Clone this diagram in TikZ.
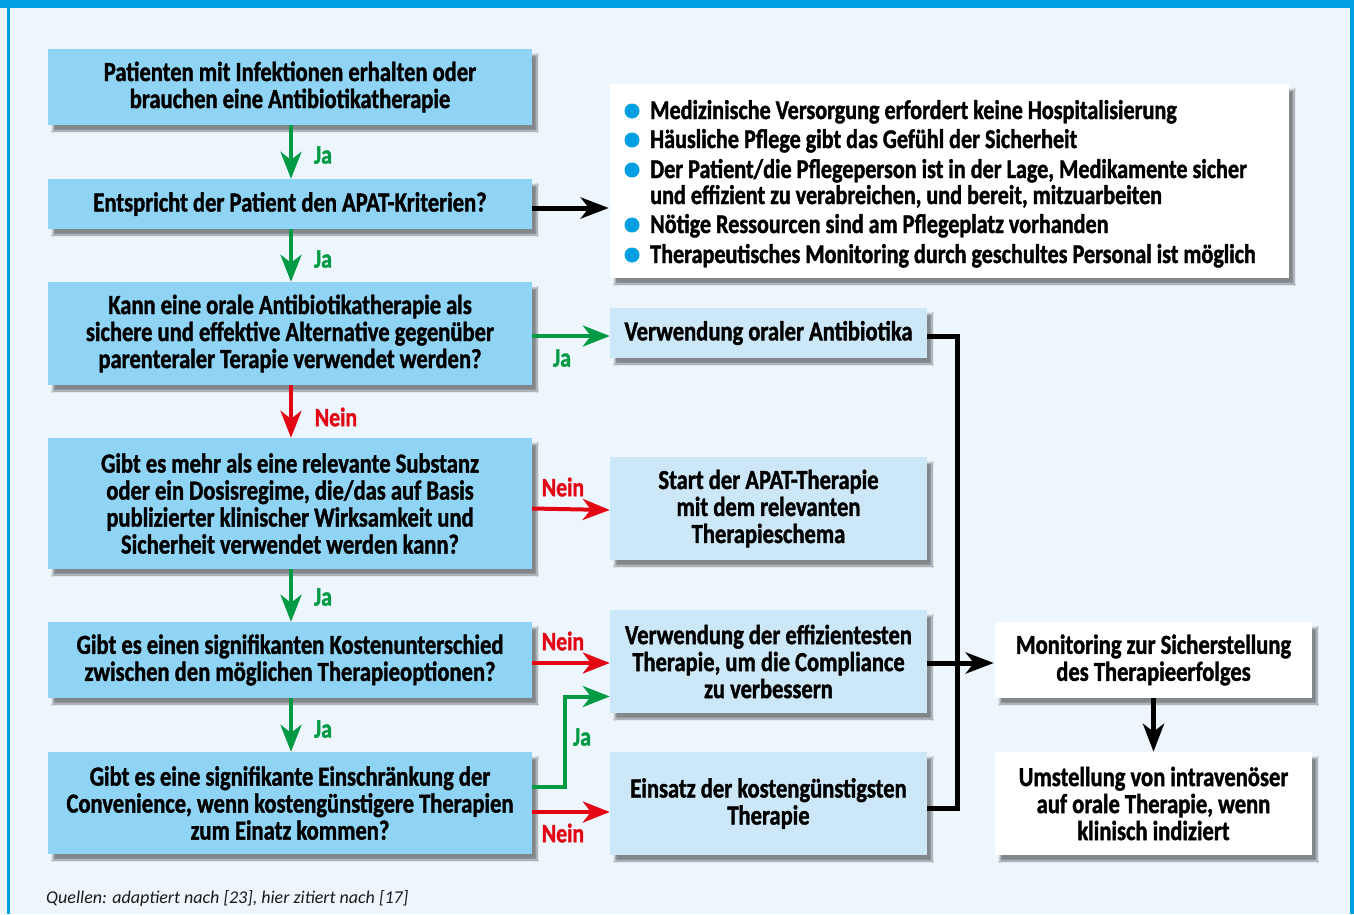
\documentclass[tikz,border=0pt]{standalone}
\usepackage{fontspec}
\setmainfont{Carlito}[FakeStretch=0.82, BoldFeatures={FakeBold=1.4}]
\newfontfamily\srcfont{Carlito}
\usetikzlibrary{arrows.meta,calc,shadows.blur}
\definecolor{bgcol}{HTML}{EEF6FD}
\definecolor{frameblue}{HTML}{009FE3}
\definecolor{darkbox}{HTML}{8FD4F5}
\definecolor{lightbox}{HTML}{CCE8F8}
\definecolor{jagreen}{HTML}{009A44}
\definecolor{neinred}{HTML}{E30613}
\tikzset{
  box/.style={rectangle, align=center, inner sep=0pt,
    blur shadow={shadow xshift=5pt, shadow yshift=-6pt, shadow opacity=45, shadow blur steps=8}},
  qbox/.style={box, fill=darkbox, minimum width=484pt},
  abox/.style={box, fill=lightbox, minimum width=317pt},
  wbox/.style={box, fill=white, minimum width=317pt},
  jaarrow/.style={draw=jagreen, line width=4pt, -{Stealth[length=27pt,width=21pt,inset=8pt]}},
  neinarrow/.style={draw=neinred, line width=4pt, -{Stealth[length=27pt,width=21pt,inset=8pt]}},
  blackarrow/.style={draw=black, line width=5pt, -{Stealth[length=28pt,width=21pt,inset=8pt]}},
  blackline/.style={draw=black, line width=5pt},
  jalabel/.style={text=jagreen, font=\bfseries\fontsize{26.5}{27}\selectfont},
  neinlabel/.style={text=neinred, font=\bfseries\fontsize{26.5}{27}\selectfont},
  bullet/.style={circle, fill=frameblue, minimum size=15pt, inner sep=0pt},
  item/.style={anchor=base west, align=left, inner sep=0pt, font=\bfseries\fontsize{27}{26}\selectfont}
}
\begin{document}
\begin{tikzpicture}[x=1pt, y=-1pt, font=\bfseries\fontsize{27.5}{27}\selectfont]
\useasboundingbox (0,0) rectangle (1354,914);
% background and frame
\fill[bgcol] (0,0) rectangle (1354,914);
\fill[frameblue] (0,0) rectangle (1354,8);
\fill[frameblue] (7,0) rectangle (10,914);
\fill[frameblue] (1350,0) rectangle (1354,914);

% left column questions
\node[qbox, minimum height=76pt] (b1) at (290,87) {Patienten mit Infektionen erhalten oder\\brauchen eine Antibiotikatherapie};
\node[qbox, minimum height=50pt] (b2) at (290,204) {Entspricht der Patient den APAT-Kriterien?};
\node[qbox, minimum height=103pt] (b3) at (290,333.5) {Kann eine orale Antibiotikatherapie als\\sichere und effektive Alternative gegenüber\\parenteraler Terapie verwendet werden?};
\node[qbox, minimum height=131pt] (b4) at (290,503.5) {Gibt es mehr als eine relevante Substanz\\oder ein Dosisregime, die/das auf Basis\\publizierter klinischer Wirksamkeit und\\Sicherheit verwendet werden kann?};
\node[qbox, minimum height=76pt] (b5) at (290,660) {Gibt es einen signifikanten Kostenunterschied\\zwischen den möglichen Therapieoptionen?};
\node[qbox, minimum height=102pt] (b6) at (290,803) {Gibt es eine signifikante Einschränkung der\\Convenience, wenn kostengünstigere Therapien\\zum Einatz kommen?};

% criteria box
\node[box, fill=white, minimum width=679pt, minimum height=194pt] (crit) at (949.5,181) {};
\node[bullet] (d1) at (632,111) {};
\node[item] (t1) at (650,119) {Medizinische Versorgung erfordert keine Hospitalisierung};
\node[bullet] (d2) at (632,140) {};
\node[item] (t2) at (650,148) {Häusliche Pflege gibt das Gefühl der Sicherheit};
\node[bullet] (d3) at (632,170) {};
\node[item] (t3) at (650,204) {Der Patient/die Pflegeperson ist in der Lage, Medikamente sicher\\und effizient zu verabreichen, und bereit, mitzuarbeiten};
\node[bullet] (d4) at (632,225) {};
\node[item] (t4) at (650,233) {Nötige Ressourcen sind am Pflegeplatz vorhanden};
\node[bullet] (d5) at (632,255) {};
\node[item] (t5) at (650,263) {Therapeutisches Monitoring durch geschultes Personal ist möglich};

% middle column actions
\node[abox, minimum height=50pt] (m1) at (768.5,333) {Verwendung oraler Antibiotika};
\node[abox, minimum height=103pt] (m2) at (768.5,508.5) {Start der APAT-Therapie\\mit dem relevanten\\Therapieschema};
\node[abox, minimum height=103pt] (m3) at (768.5,661.5) {Verwendung der effizientesten\\Therapie, um die Compliance\\zu verbessern};
\node[abox, minimum height=103pt] (m4) at (768.5,803.5) {Einsatz der kostengünstigsten\\Therapie};

% right column
\node[wbox, minimum height=76pt] (r1) at (1153.5,660) {Monitoring zur Sicherstellung\\des Therapieerfolges};
\node[wbox, minimum height=103pt] (r2) at (1153.5,803.5) {Umstellung von intravenöser\\auf orale Therapie, wenn\\klinisch indiziert};

% vertical flow
\draw[jaarrow] ([xshift=1pt]b1.south) -- ([xshift=1pt]b2.north);
\node[jalabel] (l1) at (323,155) {Ja};
\draw[jaarrow] ([xshift=1pt]b2.south) -- ([xshift=1pt]b3.north);
\node[jalabel] (l2) at (323,259) {Ja};
\draw[neinarrow] ([xshift=1pt]b3.south) -- ([xshift=1pt]b4.north);
\node[neinlabel] (l3) at (336,417) {Nein};
\draw[jaarrow] ([xshift=1pt]b4.south) -- ([xshift=1pt]b5.north);
\node[jalabel] (l4) at (323,597) {Ja};
\draw[jaarrow] ([xshift=1pt]b5.south) -- ([xshift=1pt]b6.north);
\node[jalabel] (l5) at (323,729) {Ja};

% horizontal flow
\draw[blackarrow] ($(b2.east)+(0,4)$) -- ($(crit.west |- b2.east)+(-1,4)$);
\draw[jaarrow] ($(b3.east)+(0,2.5)$) -- ($(m1.west)+(0,3)$);
\node[jalabel] (l6) at (562,358) {Ja};
\draw[neinarrow] (b4.east |- m2.west) -- ($(m2.west)+(0,1.5)$);
\node[neinlabel] (l7) at (563,487) {Nein};
\draw[neinarrow] ($(b5.east)+(0,3)$) -- ($(m3.west)+(0,1.5)$);
\node[neinlabel] (l8) at (563,641) {Nein};
\draw[jaarrow] ($(b6.east)+(0,-16)$) -- ++(33,0) |- ($(m3.west)+(0,35)$);
\node[jalabel] (l9) at (582,737) {Ja};
\draw[neinarrow] ($(b6.east)+(0,9)$) -- ($(m4.west)+(0,8.5)$);
\node[neinlabel] (l10) at (563,833) {Nein};

% collector
\draw[blackline] ($(m1.east)+(0,3)$) -- ++(30,0) |- ($(m4.east)+(0,4.5)$);
\draw[blackarrow] ($(m3.east)+(0,1.5)$) -- ($(r1.west)+(-1,3)$);
\draw[blackarrow] (r1.south) -- (r2.north);

% source
\node[anchor=west, inner sep=0pt, font=\srcfont\itshape\fontsize{18}{20}\selectfont, text=black!90] (src) at (46,898) {Quellen: adaptiert nach [23], hier zitiert nach [17]};
\end{tikzpicture}
\end{document}
